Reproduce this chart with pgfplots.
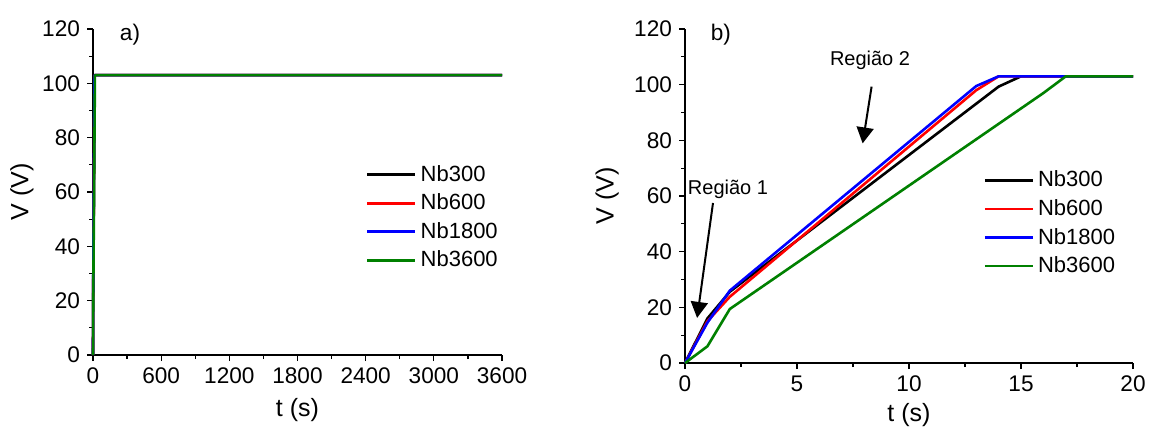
\documentclass[border=0pt]{standalone}
\usepackage{fontspec}
\setmainfont{Liberation Sans}
\usepackage{pgfplots}
\pgfplotsset{compat=1.18}
\usetikzlibrary{arrows.meta}

\definecolor{nbgreen}{RGB}{0,128,0}

\pgfplotsset{
  panel/.style={
    scale only axis,
    axis lines*=left,
    axis line style={line width=0.6pt},
    tick align=outside,
    ymin=0, ymax=120, ytick={0,20,...,120},
    minor x tick num=1, minor y tick num=1,
    tick style={black, line width=0.6pt},
    major tick length=3pt, minor tick length=2pt,
    ticklabel style={font=\fontsize{11.3}{13}\selectfont},
    label style={font=\fontsize{12.5}{15}\selectfont},
    /pgf/number format/assume math mode=true,
    /pgf/number format/1000 sep={},
    legend style={draw=none, fill=none, font=\fontsize{11}{13}\selectfont,
      anchor=north west, row sep=0.8pt},
    legend cell align=left,
    legend image code/.code={\draw[##1] (0pt,0pt) -- (24pt,0pt);},
    every axis plot/.append style={line width=1.3pt, line join=round},
    clip=false,
  },
}

\begin{document}
\begin{tikzpicture}
\useasboundingbox (0,0) rectangle (575pt,-215pt);

% panel a
\begin{axis}[panel,
  at={(46.5pt,-177.5pt)}, anchor=south west,
  width=204.5pt, height=163pt,
  xmin=0, xmax=3600, xtick={0,600,...,3600},
  xlabel={t (s)}, ylabel={V (V)},
  xlabel style={at={(axis description cs:0.5,-0.17)}, anchor=center},
  ylabel style={at={(axis description cs:-0.174,0.5)}, anchor=center},
  legend style={at={(axis description cs:0.652,0.608)}},
]
\addplot[black] coordinates {(0,0)(1,16)(2,25.6)(14,99.3)(15,103)(3600,103)};
\addplot[red] coordinates {(0,0)(1,15)(2,23.8)(13,98)(14,103)(3600,103)};
\addplot[blue] coordinates {(0,0)(1,14.5)(2,26)(13,99.5)(14,103)(3600,103)};
\addplot[nbgreen] coordinates {(0,0)(1,6)(2,19.4)(16,97)(17,103)(3600,103)};
\legend{Nb300,Nb600,Nb1800,Nb3600}
\node[font=\fontsize{11.3}{13}\selectfont] at (axis cs:326,117.8) {a)};
\end{axis}

% panel b
\begin{axis}[panel,
  at={(342.5pt,-181.5pt)}, anchor=south west,
  width=224pt, height=167pt,
  xmin=0, xmax=20, xtick={0,5,...,20},
  xlabel={t (s)}, ylabel={V (V)},
  xlabel style={at={(axis description cs:0.5,-0.156)}, anchor=center},
  ylabel style={at={(axis description cs:-0.174,0.5)}, anchor=center},
  legend style={at={(axis description cs:0.652,0.6)}},
]
\addplot[black] coordinates {(0,0)(1,16)(2,25.6)(14,99.3)(15,103)(20,103)};
\addplot[red] coordinates {(0,0)(1,15)(2,23.8)(13,98)(14,103)(20,103)};
\addplot[blue] coordinates {(0,0)(1,14.5)(2,26)(13,99.5)(14,103)(20,103)};
\addplot[nbgreen] coordinates {(0,0)(1,6)(2,19.4)(16,97)(17,103)(20,103)};
\legend{Nb300,Nb600,Nb1800,Nb3600}
\node[font=\fontsize{11.3}{13}\selectfont] at (axis cs:1.6,117.9) {b)};
\node[font=\fontsize{10}{12}\selectfont] at (axis cs:1.92,62.5) {Região 1};
\node[font=\fontsize{10}{12}\selectfont] at (axis cs:8.26,108.9) {Região 2};
\draw[-{Triangle[width=8.5pt,length=8pt]}, line width=1pt]
  (axis cs:1.25,57.5) -- (axis cs:0.54,16.2);
\draw[-{Triangle[width=8.5pt,length=8pt]}, line width=1pt]
  (axis cs:8.33,99.3) -- (axis cs:7.93,78.9);
\end{axis}
\end{tikzpicture}
\end{document}
